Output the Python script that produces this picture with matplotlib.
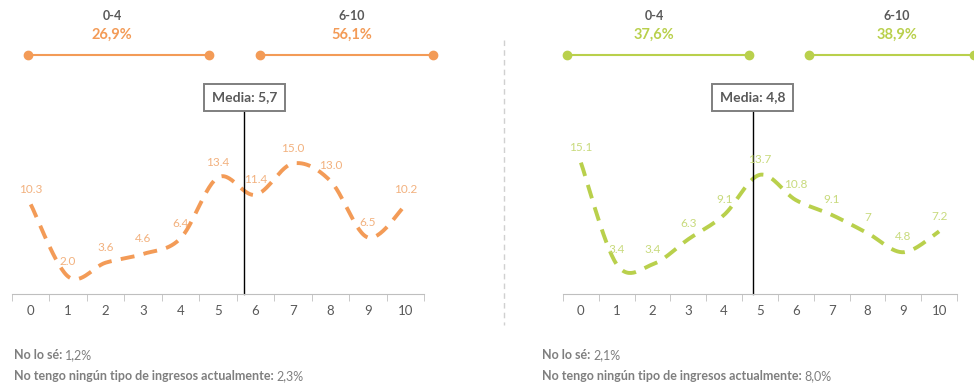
import numpy as np
import matplotlib.pyplot as plt

plt.rcParams['font.family'] = ['Lato', 'DejaVu Sans']

categories = list(range(11))
left_values = [10.3, 2.0, 3.6, 4.6, 6.4, 13.4, 11.4, 15.0, 13.0, 6.5, 10.2]
right_values = [15.1, 3.4, 3.4, 6.3, 9.1, 13.7, 10.8, 9.1, 7, 4.8, 7.2]
left_labels = ['10.3', '2.0', '3.6', '4.6', '6.4', '13.4', '11.4', '15.0', '13.0', '6.5', '10.2']
right_labels = ['15.1', '3.4', '3.4', '6.3', '9.1', '13.7', '10.8', '9.1', '7', '4.8', '7.2']
left_mean = 5.7
right_mean = 4.8
left_mean_label = 'Media: 5,7'
right_mean_label = 'Media: 4,8'

range_names = ['0-4', '6-10']
left_ranges = ['26,9%', '56,1%']
right_ranges = ['37,6%', '38,9%']

left_notes = [('No lo sé:', '1,2%'),
              ('No tengo ningún tipo de ingresos actualmente:', '2,3%')]
right_notes = [('No lo sé:', '2,1%'),
               ('No tengo ningún tipo de ingresos actualmente:', '8,0%')]

ORANGE = '#F39B57'
ORANGE_TXT = '#F2B17E'
GREEN = '#B9D04C'
GREEN_TXT = '#C8DA7C'
GRAY = '#595959'

W, H = 974, 385
fig = plt.figure(figsize=(W / 100, H / 100), dpi=100)


def px_axes(x0, y0, x1, y1, **kw):
    # axes placed with pixel edges, y measured from the top
    return fig.add_axes([x0 / W, 1 - y1 / H, (x1 - x0) / W, (y1 - y0) / H], **kw)


def smooth(x, y, n=30):
    # Catmull-Rom curve through the points, like Excel's smoothed line
    pts = np.column_stack([x, y]).astype(float)
    p = np.vstack([pts[0], pts, pts[-1]])
    out = []
    t = np.linspace(0, 1, n, endpoint=False)[:, None]
    for i in range(1, len(p) - 2):
        p0, p1, p2, p3 = p[i - 1], p[i], p[i + 1], p[i + 2]
        seg = 0.5 * ((2 * p1) + (-p0 + p2) * t +
                     (2 * p0 - 5 * p1 + 4 * p2 - p3) * t ** 2 +
                     (-p0 + 3 * p1 - 3 * p2 + p3) * t ** 3)
        out.append(seg)
    out.append(pts[-1][None, :])
    out = np.vstack(out)
    return out[:, 0], out[:, 1]


def line_panel(ax, values, labels, color, txt_color, mean, mean_label):
    sx, sy = smooth(categories, values)
    ax.plot(sx, sy, color=color, lw=2.8, dashes=(3.6, 2.4), solid_capstyle='butt')
    for c, v, lab in zip(categories, values, labels):
        ax.annotate(lab, (c, v), xytext=(0, 11), textcoords='offset points',
                    ha='center', va='center', fontsize=8.5, color=txt_color)
    ax.set_xlim(-0.5, 10.5)
    ax.set_ylim(0, 17.7)
    ax.plot([mean, mean], [0, 21.1], color='black', lw=1, clip_on=False)
    ax.text(mean, 22.6, mean_label, ha='center', va='center', fontsize=10,
            fontweight='bold', color=GRAY,
            bbox=dict(boxstyle='square,pad=0.55', fc='white', ec='#7F7F7F', lw=1.4))
    for s in ['top', 'right', 'left']:
        ax.spines[s].set_visible(False)
    ax.spines['bottom'].set_color('#BFBFBF')
    ax.set_yticks([])
    ax.set_xticks(categories)
    ax.set_xticklabels([str(c) for c in categories], fontsize=9.5, color=GRAY)
    ax.tick_params(axis='x', which='major', length=0, pad=8)
    ax.set_xticks(np.arange(-0.5, 11, 1), minor=True)
    ax.tick_params(axis='x', which='minor', length=5, color='#BFBFBF', direction='out')
    ax.patch.set_alpha(0)


ax_l = px_axes(12, 140, 424, 294)
line_panel(ax_l, left_values, left_labels, ORANGE, ORANGE_TXT, left_mean, left_mean_label)
ax_r = px_axes(563, 140, 957, 294)
line_panel(ax_r, right_values, right_labels, GREEN, GREEN_TXT, right_mean, right_mean_label)

# overlay for the range bars, separator and notes
ov = fig.add_axes([0, 0, 1, 1], zorder=-1)
ov.set_xlim(0, W)
ov.set_ylim(H, 0)
ov.axis('off')

ranges_pos = {
    'left': [(28, 209, 112), (260, 433, 352)],
    'right': [(567, 749, 654), (809, 974, 897)],
}
for side, pcts, color in [('left', left_ranges, ORANGE), ('right', right_ranges, GREEN)]:
    for (x0, x1, xc), name, pct in zip(ranges_pos[side], range_names, pcts):
        ov.plot([x0, x1], [55, 55], color=color, lw=1.5, marker='o', ms=6,
                clip_on=False)
        ov.text(xc, 16, name, ha='center', va='center', fontsize=9,
                fontweight='bold', color=GRAY)
        ov.text(xc, 35, pct, ha='center', va='center', fontsize=10.5,
                fontweight='bold', color=color)

ov.plot([504, 504], [40, 325], color='#D0D0D0', lw=1, dashes=(4, 3))

fig.canvas.draw()
renderer = fig.canvas.get_renderer()
for x0, notes in [(14, left_notes), (542, right_notes)]:
    for y, (head, val) in zip([355, 376], notes):
        t = ov.text(x0, y, head, ha='left', va='center', fontsize=9,
                    fontweight='bold', color='#7F7F7F')
        bb = t.get_window_extent(renderer)
        ov.text(bb.x1 + 3, H - y, val, ha='left', va='center', fontsize=9,
                color='#7F7F7F', transform=None)

fig.savefig('out.png', dpi=100)
